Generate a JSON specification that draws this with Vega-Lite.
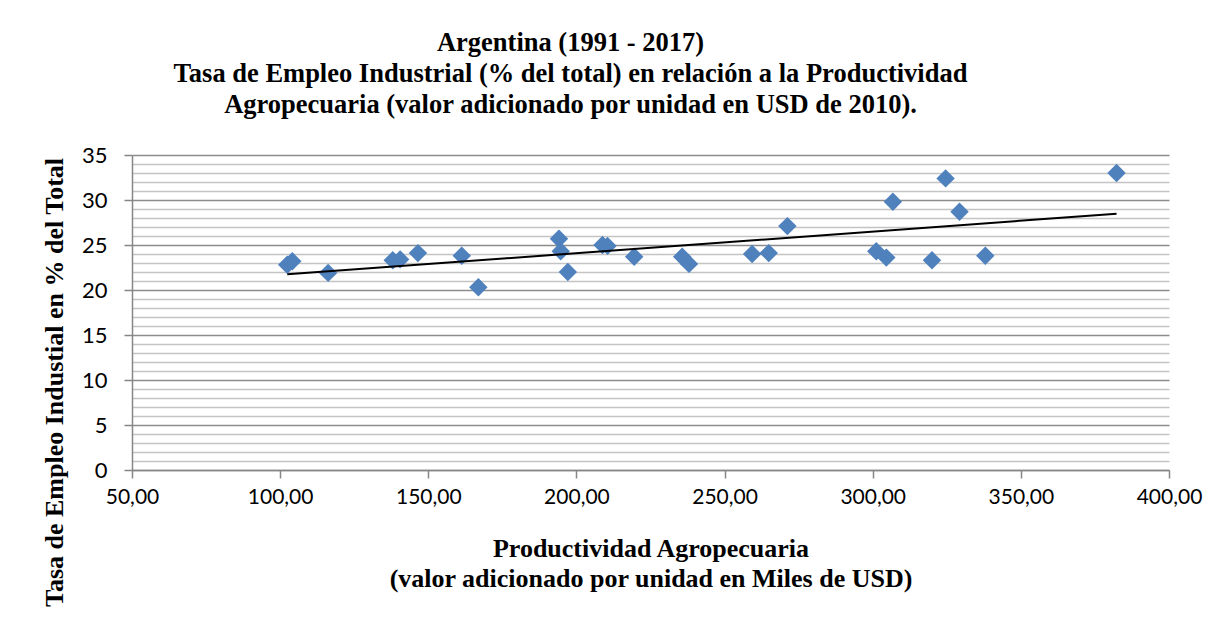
{
  "$schema": "https://vega.github.io/schema/vega-lite/v6.json",
  "width": 1037,
  "height": 315,
  "autosize": {"type": "none"},
  "padding": {"left": 132, "top": 155, "right": 62, "bottom": 149},
  "background": "white",
  "title": {
    "text": ["Argentina (1991 - 2017)", "Tasa de Empleo Industrial (% del total) en relación a la Productividad", "Agropecuaria (valor adicionado por unidad en USD de 2010)."],
    "font": "Liberation Serif",
    "fontSize": 26.5,
    "fontWeight": "bold",
    "color": "black",
    "anchor": "middle",
    "dx": -80,
    "offset": 26,
    "lineHeight": 31
  },
  "data": {
    "values": [
      {"prod": 102.4, "emp": 22.8},
      {"prod": 104.1, "emp": 23.2},
      {"prod": 116.2, "emp": 21.9},
      {"prod": 138.0, "emp": 23.3},
      {"prod": 140.5, "emp": 23.4},
      {"prod": 146.5, "emp": 24.1},
      {"prod": 161.3, "emp": 23.8},
      {"prod": 166.9, "emp": 20.3},
      {"prod": 194.1, "emp": 25.7},
      {"prod": 194.7, "emp": 24.3},
      {"prod": 197.1, "emp": 22.0},
      {"prod": 208.8, "emp": 25.0},
      {"prod": 210.5, "emp": 24.9},
      {"prod": 219.5, "emp": 23.7},
      {"prod": 235.7, "emp": 23.7},
      {"prod": 238.0, "emp": 22.9},
      {"prod": 259.3, "emp": 24.0},
      {"prod": 264.9, "emp": 24.1},
      {"prod": 271.2, "emp": 27.1},
      {"prod": 301.2, "emp": 24.3},
      {"prod": 304.6, "emp": 23.6},
      {"prod": 306.8, "emp": 29.8},
      {"prod": 320.0, "emp": 23.3},
      {"prod": 324.6, "emp": 32.4},
      {"prod": 329.3, "emp": 28.7},
      {"prod": 338.0, "emp": 23.8},
      {"prod": 382.3, "emp": 33.0}
    ]
  },
  "layer": [
    {
      "mark": {"type": "point", "shape": "diamond", "filled": true, "size": 340, "color": "#4F81BD", "opacity": 1},
      "encoding": {
        "x": {
          "field": "prod",
          "type": "quantitative",
          "scale": {"domain": [50, 400], "nice": false, "zero": false},
          "axis": {
            "values": [50, 100, 150, 200, 250, 300, 350, 400],
            "tickCount": 8,
            "labelExpr": "replace(format(datum.value, '.2f'), '.', ',')",
            "grid": false,
            "domainColor": "#868686",
            "domainWidth": 1.5,
            "tickColor": "#868686",
            "tickWidth": 1.5,
            "tickSize": 8,
            "labelFont": "Lato",
            "labelFontSize": 21,
            "labelColor": "black",
            "labelPadding": 8,
            "labelFlush": false,
            "labelOverlap": false,
            "title": ["Productividad Agropecuaria", "(valor adicionado por unidad en Miles de USD)"],
            "titleFont": "Liberation Serif",
            "titleFontSize": 26,
            "titleFontWeight": "bold",
            "titleColor": "black",
            "titleLineHeight": 30,
            "titlePadding": 28
          }
        },
        "y": {
          "field": "emp",
          "type": "quantitative",
          "scale": {"domain": [0, 35], "nice": false},
          "axis": {
            "values": [0, 1, 2, 3, 4, 5, 6, 7, 8, 9, 10, 11, 12, 13, 14, 15, 16, 17, 18, 19, 20, 21, 22, 23, 24, 25, 26, 27, 28, 29, 30, 31, 32, 33, 34, 35],
            "tickCount": 36,
            "labelExpr": "datum.value % 5 === 0 ? datum.value : ''",
            "grid": true,
            "gridColor": {"condition": {"test": "datum.value % 5 === 0", "value": "#8C8C8C"}, "value": "#C4C4C4"},
            "gridWidth": 1.5,
            "domainColor": "#868686",
            "domainWidth": 1.5,
            "tickColor": "#868686",
            "tickWidth": 1.5,
            "tickSize": 8,
            "tickOpacity": {"condition": {"test": "datum.value % 5 === 0", "value": 1}, "value": 0},
            "labelFont": "Lato",
            "labelFontSize": 22,
            "labelColor": "black",
            "labelPadding": 17,
            "labelOverlap": false,
            "labelFlush": false,
            "title": "Tasa de Empleo Industial en % del Total",
            "titleFont": "Liberation Serif",
            "titleFontSize": 26,
            "titleFontWeight": "bold",
            "titleColor": "black",
            "titleX": -78,
            "titleY": 227,
            "titleAngle": -90,
            "titleAlign": "center",
            "titleBaseline": "middle"
          }
        }
      }
    },
    {
      "transform": [{"regression": "emp", "on": "prod"}],
      "mark": {"type": "line", "color": "black", "strokeWidth": 2},
      "encoding": {
        "x": {"field": "prod", "type": "quantitative"},
        "y": {"field": "emp", "type": "quantitative"}
      }
    }
  ],
  "config": {"view": {"stroke": null}}
}
